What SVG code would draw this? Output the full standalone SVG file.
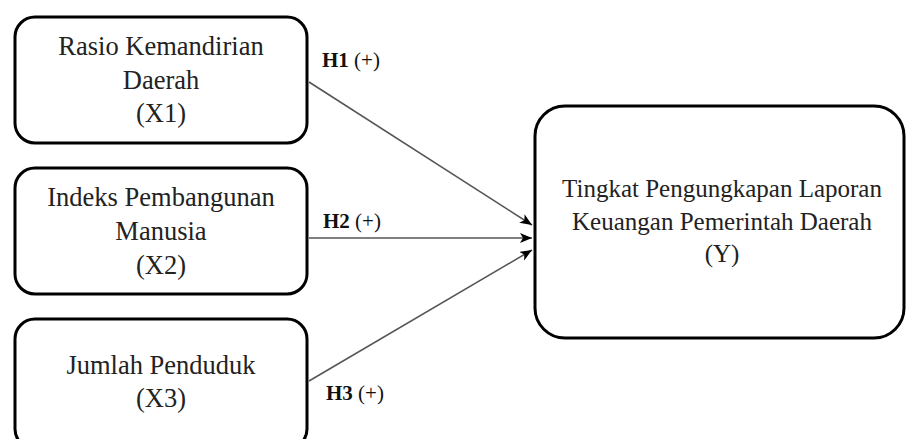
<svg xmlns="http://www.w3.org/2000/svg" width="907" height="439" viewBox="0 0 907 439">
  <style>
    .box { fill: #ffffff; stroke: #000000; stroke-width: 3; }
    .lbl { font-family: "Liberation Serif", "Times New Roman", serif; fill: #222222; text-anchor: middle; }
    .left { font-size: 26.5px; }
    .right { font-size: 25px; }
    .hyp { font-family: "Liberation Serif", "Times New Roman", serif; font-size: 21px; fill: #111111; }
    .hyp .b { font-weight: bold; }
    .link { stroke: #555555; stroke-width: 1.6; fill: none; marker-end: url(#arrow); }
  </style>
  <defs>
    <marker id="arrow" markerUnits="userSpaceOnUse" markerWidth="14" markerHeight="12" refX="12" refY="5" orient="auto">
      <path d="M0,0 L12,5 L0,10 L3,5 z" fill="#000000"/>
    </marker>
  </defs>
  <rect width="907" height="439" fill="#ffffff"/>

  <g id="node-x1">
    <rect class="box" x="15" y="17" width="292" height="126" rx="20" ry="20"/>
    <text class="lbl left" x="161" y="55">Rasio Kemandirian</text>
    <text class="lbl left" x="161" y="89">Daerah</text>
    <text class="lbl left" x="161" y="122">(X1)</text>
  </g>

  <g id="node-x2">
    <rect class="box" x="15" y="168" width="292" height="126" rx="20" ry="20"/>
    <text class="lbl left" x="161" y="206">Indeks Pembangunan</text>
    <text class="lbl left" x="161" y="240">Manusia</text>
    <text class="lbl left" x="161" y="274">(X2)</text>
  </g>

  <g id="node-x3">
    <rect class="box" x="15" y="319" width="292" height="130" rx="20" ry="20"/>
    <text class="lbl left" x="161" y="374">Jumlah Penduduk</text>
    <text class="lbl left" x="161" y="407">(X3)</text>
  </g>

  <g id="node-y">
    <rect class="box" x="535" y="106" width="369" height="232" rx="30" ry="30"/>
    <text class="lbl right" x="722" y="197">Tingkat Pengungkapan Laporan</text>
    <text class="lbl right" x="722" y="230">Keuangan Pemerintah Daerah</text>
    <text class="lbl right" x="722" y="262">(Y)</text>
  </g>

  <g id="connectors">
    <line class="link" x1="309" y1="82" x2="532" y2="225"/>
    <line class="link" x1="309" y1="238" x2="532" y2="238"/>
    <line class="link" x1="309" y1="381" x2="532" y2="250"/>
    <text class="hyp" x="322" y="67"><tspan class="b">H1</tspan> (+)</text>
    <text class="hyp" x="323" y="228"><tspan class="b">H2</tspan> (+)</text>
    <text class="hyp" x="326" y="400"><tspan class="b">H3</tspan> (+)</text>
  </g>
</svg>
